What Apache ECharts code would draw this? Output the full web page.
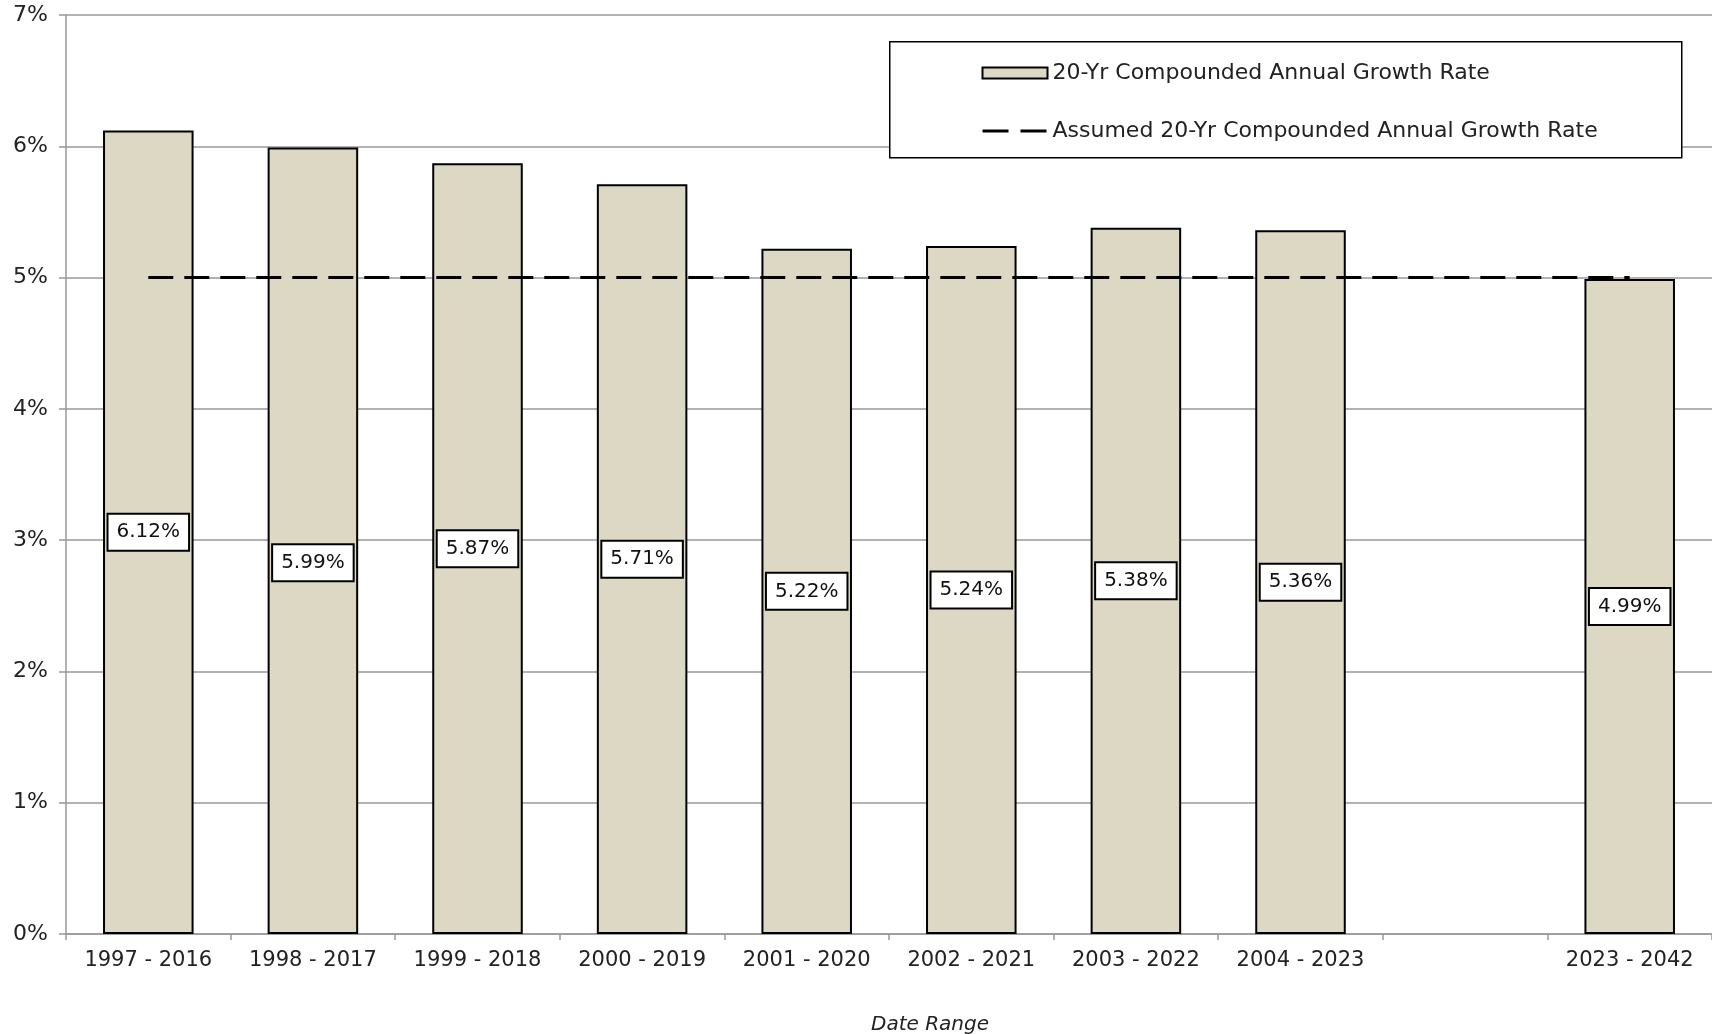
<!DOCTYPE html>
<html>
<head>
<meta charset="utf-8">
<script src="https://cdn.jsdelivr.net/npm/echarts@6/dist/echarts.min.js"></script>
<style>
html,body{margin:0;padding:0;background:#fff;}
#chart{width:1712px;height:1034px;}
</style>
</head>
<body>
<div id="chart"></div>
<script>
const categories = ['1997 - 2016','1998 - 2017','1999 - 2018','2000 - 2019','2001 - 2020','2002 - 2021','2003 - 2022','2004 - 2023','','2023 - 2042'];
const cagrValues = [6.12, 5.99, 5.87, 5.71, 5.22, 5.24, 5.38, 5.36, '-', 4.99];
const assumedValues = [5, 5, 5, 5, 5, 5, 5, 5, 5, 5];
const yTicks = [0, 1, 2, 3, 4, 5, 6, 7];
const seriesNames = ['20-Yr Compounded Annual Growth Rate', 'Assumed 20-Yr Compounded Annual Growth Rate'];
const xAxisTitle = 'Date Range';

const FONT = 'DejaVu Sans';
const chart = echarts.init(document.getElementById('chart'), null, {renderer: 'canvas'});

const barData = cagrValues.map((v, i) => (i === 1 ? {value: v, label: {offset: [0, 22]}} : v));

chart.setOption({
  animation: false,
  backgroundColor: '#fff',
  textStyle: {fontFamily: FONT},
  grid: {left: 66, right: 0, top: 15, bottom: 100, containLabel: false},
  title: {
    text: xAxisTitle,
    left: 925, top: 1010, textAlign: 'center',
    textStyle: {fontFamily: FONT, fontSize: 20, fontStyle: 'italic', fontWeight: 'normal', color: '#222'}
  },
  graphic: [{
    type: 'rect', left: 889, top: 41, z: 10,
    shape: {width: 792, height: 116},
    style: {fill: '#fff', stroke: '#000', lineWidth: 1.5}
  }],
  legend: {
    left: 976, top: 56, orient: 'vertical', z: 20,
    itemWidth: 65, itemHeight: 11, itemGap: 34,
    textStyle: {fontFamily: FONT, fontSize: 22, color: '#222', lineHeight: 24},
    data: [
      {name: seriesNames[0], icon: 'rect', itemStyle: {color: '#DDD8C3', borderColor: '#000', borderWidth: 2}},
      {name: seriesNames[1], itemStyle: {opacity: 0}, lineStyle: {color: '#000', width: 3, type: [26, 12]}}
    ]
  },
  xAxis: {
    type: 'category',
    data: categories,
    axisLine: {lineStyle: {color: '#999', width: 1.5}},
    axisTick: {show: true, interval: 0, length: 6, lineStyle: {color: '#999', width: 1.5}},
    axisLabel: {interval: 0, margin: 16, fontFamily: FONT, fontSize: 21, color: '#222'}
  },
  yAxis: {
    type: 'value',
    min: yTicks[0], max: yTicks[yTicks.length - 1], interval: 1,
    axisLine: {show: true, lineStyle: {color: '#999', width: 1.5}},
    axisTick: {show: true, length: 7, lineStyle: {color: '#999', width: 1.5}},
    splitLine: {lineStyle: {color: '#999', width: 1.5}},
    axisLabel: {formatter: '{value}%', margin: 18, fontFamily: FONT, fontSize: 22, color: '#222'}
  },
  series: [
    {
      name: seriesNames[0],
      type: 'bar',
      data: barData,
      barWidth: '55%',
      itemStyle: {color: '#DDD8C3', borderColor: '#000', borderWidth: 2},
      label: {
        show: true, position: 'inside',
        formatter: p => p.value.toFixed(2) + '%',
        fontFamily: FONT, fontSize: 20, color: '#111',
        backgroundColor: '#fff', borderColor: '#000', borderWidth: 2,
        padding: [8, 8, 7, 8]
      },
      z: 2
    },
    {
      name: seriesNames[1],
      type: 'line',
      data: assumedValues,
      symbol: 'none',
      lineStyle: {color: '#000', width: 3, type: [25, 11]},
      itemStyle: {color: '#000'},
      z: 3
    }
  ]
});
</script>
</body>
</html>
